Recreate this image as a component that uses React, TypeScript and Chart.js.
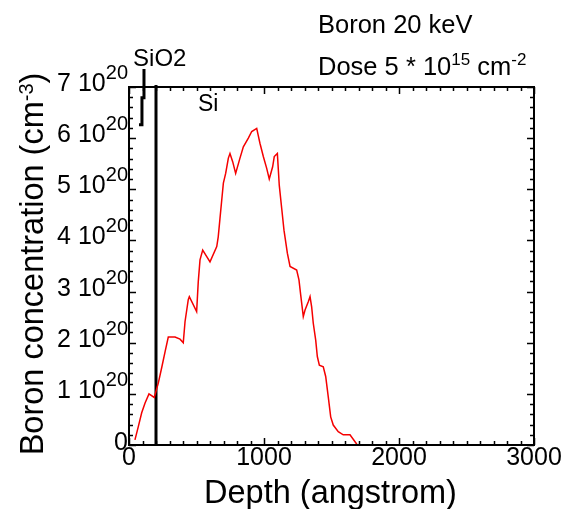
import React, { useEffect, useRef } from "react";
import { Chart, registerables } from "chart.js";

Chart.register(...registerables);

// Boron implant profile (depth in angstrom, concentration in 1e20 cm^-3)
const depth = [44,69,94,119,148,187,217,242,267,291,341,378,402,415,439,447,501,513,526,546,600,650,661,674,687,699,716,736,748,768,790,822,847,884,909,946,970,995,1020,1039,1064,1076,1099,1113,1131,1148,1173,1193,1242,1259,1272,1291,1304,1328,1341,1353,1365,1383,1395,1410,1439,1457,1476,1494,1513,1550,1587,1637,1681,1690];
const conc = [0.10,0.36,0.63,0.82,1.00,0.93,1.21,1.51,1.82,2.11,2.11,2.07,2.00,2.41,2.84,2.90,2.61,3.19,3.62,3.81,3.58,3.88,4.07,4.43,4.79,5.12,5.31,5.61,5.70,5.54,5.31,5.61,5.83,6.00,6.13,6.19,5.90,5.64,5.41,5.20,5.44,5.64,5.70,5.08,4.63,4.20,3.75,3.49,3.42,3.23,2.93,2.51,2.64,2.80,2.90,2.70,2.38,2.05,1.73,1.56,1.53,1.34,0.94,0.55,0.39,0.26,0.20,0.20,0.04,0.0];

// SiO2 / Si interface line
const interfaceDepth = [200, 200];
const interfaceConc = [0, 7.04];

// SiO2 bracket marker
const oxideDepth = [111, 111, 96, 96, 74];
const oxideConc = [7.35, 6.79, 6.79, 6.26, 6.26];

// axes
const xMin = 0, xMax = 3000, xMajor = 1000, xMinor = 100;
const yMin = 0, yMax = 7, yMajor = 1, yMinor = 0.2;
const xTickLabels = ["0", "1000", "2000", "3000"];
const yTickMantissa = ["0", "1", "2", "3", "4", "5", "6", "7"];

// annotations inside plot
const siLabel = { text: "Si", x: 511, y: 6.53 };
const sio2Label = { text: "SiO2", x: 30, y: 7.42 };

const FONT = '"Liberation Sans", Arial, sans-serif';

type Part = { t: string; size: number; rise?: number };

function drawRich(ctx: CanvasRenderingContext2D, parts: Part[], x: number, y: number, align: "left" | "right" | "center") {
  let total = 0;
  const widths = parts.map((p) => {
    ctx.font = `${p.size}px ${FONT}`;
    const w = ctx.measureText(p.t).width;
    total += w;
    return w;
  });
  let cx = align === "left" ? x : align === "right" ? x - total : x - total / 2;
  ctx.textAlign = "left";
  ctx.textBaseline = "alphabetic";
  parts.forEach((p, i) => {
    ctx.font = `${p.size}px ${FONT}`;
    ctx.fillText(p.t, cx, y - (p.rise || 0));
    cx += widths[i];
  });
}

const framePlugin = {
  id: "framePlugin",
  afterDraw(chart: any) {
    const { ctx, chartArea: a, scales } = chart;
    const xs = scales.x, ys = scales.y;
    ctx.save();
    ctx.strokeStyle = "#000";
    ctx.fillStyle = "#000";
    // ticks
    ctx.lineWidth = 1.5;
    ctx.beginPath();
    for (let v = xMin; v <= xMax + 1e-9; v += xMinor) {
      const isMajor = Math.abs(v / xMajor - Math.round(v / xMajor)) < 1e-6;
      const len = isMajor ? 7 : 4;
      const px = Math.round(xs.getPixelForValue(v)) + 0.5;
      ctx.moveTo(px, a.bottom); ctx.lineTo(px, a.bottom - len);
      ctx.moveTo(px, a.top); ctx.lineTo(px, a.top + len);
    }
    for (let i = 0; i <= Math.round((yMax - yMin) / yMinor); i++) {
      const v = yMin + i * yMinor;
      const isMajor = Math.abs(v / yMajor - Math.round(v / yMajor)) < 1e-6;
      const len = isMajor ? 7 : 4;
      const py = Math.round(ys.getPixelForValue(v)) + 0.5;
      ctx.moveTo(a.left, py); ctx.lineTo(a.left + len, py);
      ctx.moveTo(a.right, py); ctx.lineTo(a.right - len, py);
    }
    ctx.stroke();
    // frame
    ctx.lineWidth = 2;
    ctx.strokeRect(a.left, a.top, a.right - a.left, a.bottom - a.top);

    // x tick labels
    xTickLabels.forEach((lab) => {
      const v = Number(lab);
      drawRich(ctx, [{ t: lab, size: 25 }], xs.getPixelForValue(v), a.bottom + 20, "center");
    });
    // y tick labels
    yTickMantissa.forEach((m, i) => {
      const v = yMin + i * yMajor;
      const py = ys.getPixelForValue(v) + 4;
      if (v === 0) {
        drawRich(ctx, [{ t: "0", size: 25 }], a.left - 1, py + 1, "right");
      } else {
        drawRich(ctx, [{ t: `${m} 10`, size: 25 }, { t: "20", size: 20, rise: 12 }], a.left - 1, py, "right");
      }
    });
    // x title
    drawRich(ctx, [{ t: "Depth (angstrom)", size: 32.5 }], (a.left + a.right) / 2 - 1, 503, "center");
    // y title
    ctx.save();
    ctx.translate(43, 264);
    ctx.rotate(-Math.PI / 2);
    drawRich(ctx, [{ t: "Boron concentration (cm", size: 32.5 }, { t: "-3", size: 20, rise: 10 }, { t: ")", size: 32.5 }], 0, 0, "center");
    ctx.restore();

    // annotations
    drawRich(ctx, [{ t: siLabel.text, size: 23 }], xs.getPixelForValue(siLabel.x), ys.getPixelForValue(siLabel.y), "left");
    drawRich(ctx, [{ t: sio2Label.text, size: 24 }], xs.getPixelForValue(sio2Label.x), ys.getPixelForValue(sio2Label.y), "left");
    drawRich(ctx, [{ t: "Boron 20 keV", size: 25.5 }], 318, 33, "left");
    drawRich(ctx, [
      { t: "Dose 5 * 10", size: 25.5 },
      { t: "15", size: 17, rise: 10 },
      { t: " cm", size: 25.5 },
      { t: "-2", size: 17, rise: 10 },
    ], 318, 75, "left");
    ctx.restore();
  },
};

export default function App() {
  const ref = useRef<HTMLCanvasElement | null>(null);
  useEffect(() => {
    if (!ref.current) return;
    const chart = new Chart(ref.current, {
      type: "line",
      data: {
        datasets: [
          {
            data: depth.map((d, i) => ({ x: d, y: conc[i] })),
            borderColor: "rgb(245,0,0)",
            borderWidth: 1.5,
            pointRadius: 0,
            tension: 0,
            fill: false,
          },
          {
            data: interfaceDepth.map((d, i) => ({ x: d, y: interfaceConc[i] })),
            borderColor: "#000",
            borderWidth: 3,
            pointRadius: 0,
            clip: false as any,
          },
          {
            data: oxideDepth.map((d, i) => ({ x: d, y: oxideConc[i] })),
            borderColor: "#000",
            borderWidth: 3,
            pointRadius: 0,
            clip: false as any,
          },
        ],
      },
      options: {
        animation: false,
        responsive: false,
        events: [],
        layout: { padding: { top: 87, right: 29, left: 0, bottom: 0 } },
        plugins: { legend: { display: false }, tooltip: { enabled: false } },
        scales: {
          x: {
            type: "linear",
            min: xMin,
            max: xMax,
            grid: { display: false },
            border: { display: false },
            ticks: { display: false },
            afterFit: (s: any) => { s.height = 64; },
          },
          y: {
            type: "linear",
            min: yMin,
            max: yMax,
            grid: { display: false },
            border: { display: false },
            ticks: { display: false },
            afterFit: (s: any) => { s.width = 129; },
          },
        },
      },
      plugins: [framePlugin],
    });
    return () => chart.destroy();
  }, []);
  return (
    <div style={{ position: "absolute", left: 0, top: 0, width: 563, height: 509, background: "#fff" }}>
      <canvas ref={ref} width={563} height={509} style={{ display: "block" }} />
    </div>
  );
}
